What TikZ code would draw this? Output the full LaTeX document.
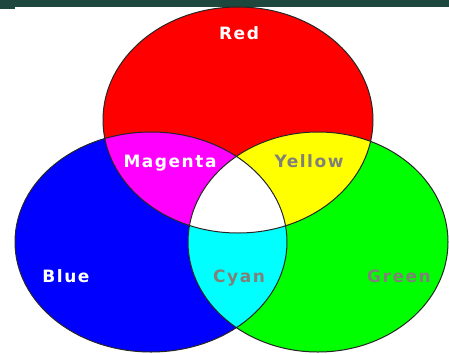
\documentclass[tikz,border=0pt]{standalone}
\usepackage{fontspec}
\newfontfamily\vennfont{DejaVu Sans}[LetterSpace=9]
\definecolor{BarColor}{RGB}{30,72,62}
\definecolor{LabelGray}{RGB}{128,128,120}
\definecolor{RedFill}{RGB}{255,0,0}
\definecolor{GreenFill}{RGB}{0,255,0}
\definecolor{BlueFill}{RGB}{0,0,255}
\definecolor{CyanFill}{RGB}{0,255,255}
\definecolor{MagentaFill}{RGB}{255,0,255}
\definecolor{YellowFill}{RGB}{255,255,0}
\usetikzlibrary{positioning}

\begin{document}
\begin{tikzpicture}[x=1pt, y=-1pt,
    ring/.style={draw=black!85, line width=1pt},
    lbl/.style={font=\vennfont\bfseries\fontsize{17}{19}\selectfont, anchor=base, inner sep=0pt},
    lightlbl/.style={lbl, text=white},
    darklbl/.style={lbl, text=LabelGray}]
          \useasboundingbox (0,0) rectangle (449,353);
          \coordinate (r) at (238,120);
          \coordinate (b) at (151,242);
          \coordinate (g) at (318,242);

          % top bar
          \fill[BarColor] (0,0) rectangle (449,7);
          \fill[BarColor] (0,7) rectangle (15,9);

          % the three discs
          \fill[RedFill] (r) ellipse [x radius=135pt, y radius=113pt];
          \fill[BlueFill] (b) ellipse [x radius=136pt, y radius=110pt];
          \fill[GreenFill] (g) ellipse [x radius=130pt, y radius=110pt];

          % overlaps
          \begin{scope}
            \clip (r) ellipse [x radius=135pt, y radius=113pt];
            \fill[MagentaFill] (b) ellipse [x radius=136pt, y radius=110pt];
            \fill[YellowFill] (g) ellipse [x radius=130pt, y radius=110pt];
          \end{scope}
          \begin{scope}
            \clip (b) ellipse [x radius=136pt, y radius=110pt];
            \fill[CyanFill] (g) ellipse [x radius=130pt, y radius=110pt];
            \clip (g) ellipse [x radius=130pt, y radius=110pt];
            \fill[white] (r) ellipse [x radius=135pt, y radius=113pt];
          \end{scope}

          \draw[ring] (r) ellipse [x radius=135pt, y radius=113pt];
          \draw[ring] (b) ellipse [x radius=136pt, y radius=110pt];
          \draw[ring] (g) ellipse [x radius=130pt, y radius=110pt];

          \node[lightlbl] (redlbl) at (239,40) {Red};
          \node[lightlbl] (magentalbl) at (170,167) {Magenta};
          \node[darklbl] (yellowlbl) at (309,167) {Yellow};
          \node[lightlbl] (bluelbl) at (66,282) {Blue};
          \node[darklbl] (cyanlbl) at (239,282) {Cyan};
          \node[darklbl] (greenlbl) at (399,282) {Green};
        \end{tikzpicture}
\end{document}
